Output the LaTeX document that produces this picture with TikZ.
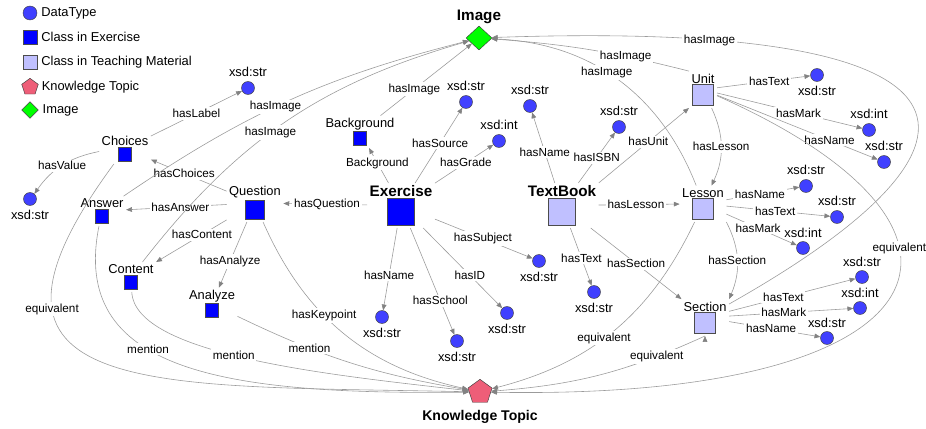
\documentclass[tikz,border=0pt]{standalone}
\usepackage{fontspec}
\setmainfont{Liberation Sans}
\usetikzlibrary{arrows.meta, positioning, shapes.geometric}

\definecolor{dtblue}{RGB}{64,64,255}
\definecolor{exblue}{RGB}{0,0,255}
\definecolor{tmblue}{RGB}{192,192,255}
\definecolor{ktred}{RGB}{238,94,120}
\definecolor{imgreen}{RGB}{0,255,0}
\definecolor{linegray}{RGB}{155,155,155}
\definecolor{tipgray}{RGB}{130,130,130}

% coloured square under a class name
\newcommand{\clsq}[2]{{\setlength{\fboxsep}{0pt}\setlength{\fboxrule}{0.5pt}\fcolorbox{black!70}{#1}{\rule{0pt}{#2}\rule{#2}{0pt}}}}

\begin{document}
\begin{tikzpicture}[x=0.03cm, y=-0.03cm, font=\fontsize{11}{13}\selectfont,
	conn/.style={draw=linegray, line width=0.5pt, -{Triangle[length=5pt,width=4pt,color=tipgray]}},
	lbl/.style={fill=white, inner sep=1.5pt, font=\fontsize{10}{12}\selectfont},
	dt/.style={circle, draw=black!75, fill=dtblue, minimum size=0.39cm, inner sep=0pt},
	cls/.style={align=center, inner sep=2pt, anchor=south},
	bold/.style={font=\bfseries\fontsize{13}{15}\selectfont},
	topic/.style={regular polygon, regular polygon sides=5, draw=black!75, fill=ktred, minimum size=0.76cm, inner sep=0pt},
	img/.style={diamond, draw=black!75, fill=imgreen, minimum width=0.78cm, minimum height=0.72cm, inner sep=0pt},
	lgsq/.style={draw=black!70, minimum size=0.42cm, inner sep=0pt}]

	\useasboundingbox (0,0) rectangle (926,429);

	% legend
	\node (lgDt) [dt, minimum size=0.42cm] at (30,13) {};
	\node (lgDtText) [right=0pt of lgDt] {DataType};
	\node (lgEx) [lgsq, fill=exblue] at (30,37) {};
	\node (lgExText) [right=0pt of lgEx] {Class in Exercise};
	\node (lgTm) [lgsq, fill=tmblue] at (30,62) {};
	\node (lgTmText) [right=0pt of lgTm] {Class in Teaching Material};
	\node (lgKt) [topic, minimum size=0.52cm] at (30,87) {};
	\node (lgKtText) [right=0pt of lgKt] {Knowledge Topic};
	\node (lgIm) [img, minimum width=0.5cm, minimum height=0.5cm] at (30,110) {};
	\node (lgImText) [right=0pt of lgIm] {Image};

	% main nodes
	\node (image) [img, label={[bold, label distance=-1.5pt]above:Image}] at (479,38) {};
	\node (kt) [topic, label={[font=\bfseries\fontsize{12}{14}\selectfont, label distance=3pt]below:Knowledge Topic}] at (480,392) {};

	\node (exercise) [cls, bold] at (401,228) {Exercise\\\clsq{exblue}{22.5pt}};
	\node (textbook) [cls, bold] at (562,228) {TextBook\\\clsq{tmblue}{22.5pt}};
	\node (question) [cls] at (255,222) {Question\\\clsq{exblue}{16pt}};
	\node (choices) [cls] at (125,164) {Choices\\\clsq{exblue}{11pt}};
	\node (answer) [cls] at (102,226) {Answer\\\clsq{exblue}{11pt}};
	\node (content) [cls] at (131,292) {Content\\\clsq{exblue}{11pt}};
	\node (analyze) [cls] at (212,320) {Analyze\\\clsq{exblue}{11pt}};
	\node (background) [cls] at (360,148) {Background\\\clsq{exblue}{11pt}};
	\node (unit) [cls] at (703,108) {Unit\\\clsq{tmblue}{17pt}};
	\node (lesson) [cls] at (703,222) {Lesson\\\clsq{tmblue}{17pt}};
	\node (section) [cls] at (705,336) {Section\\\clsq{tmblue}{17pt}};

	% data types
	\node (dLabel) [dt, label=above:{xsd:str}] at (248,88) {};
	\node (dValue) [dt, label=below:{xsd:str}] at (30,199) {};
	\node (dSource) [dt, label=above:{xsd:str}] at (466,102) {};
	\node (dGrade) [dt, label=above:{xsd:int}] at (499,141) {};
	\node (dEName) [dt, label=below:{xsd:str}] at (382,317) {};
	\node (dSchool) [dt, label=below:{xsd:str}] at (457,341) {};
	\node (dID) [dt, label=below:{xsd:str}] at (507,313) {};
	\node (dSubject) [dt, label=below:{xsd:str}] at (539,261) {};
	\node (dTName) [dt, label=above:{xsd:str}] at (530,106) {};
	\node (dISBN) [dt, label=above:{xsd:str}] at (619,127) {};
	\node (dTText) [dt, label=below:{xsd:str}] at (594,292) {};
	\node (dUText) [dt, label=below:{xsd:str}] at (817,75) {};
	\node (dUMark) [dt, label=above:{xsd:int}] at (869,130) {};
	\node (dUName) [dt, label=above:{xsd:str}] at (884,162) {};
	\node (dLName) [dt, label=above:{xsd:str}] at (806,186) {};
	\node (dLText) [dt, label=above:{xsd:str}] at (837,217) {};
	\node (dLMark) [dt, label=above:{xsd:int}] at (803,248) {};
	\node (dSText) [dt, label=above:{xsd:str}] at (862,277) {};
	\node (dSMark) [dt, label=above:{xsd:int}] at (860,308) {};
	\node (dSName) [dt, label=above:{xsd:str}] at (827,338) {};

	% exercise side
	\path [conn]
	(choices) edge node [lbl, pos=0.5] {hasLabel} (dLabel)
	(choices) edge [bend right=22] node [lbl] {hasValue} (dValue)
	(question) edge node [lbl, pos=0.56] {hasChoices} (choices)
	(question) edge node [lbl, pos=0.46] {hasAnswer} (answer)
	(question) edge node [lbl, pos=0.35] {hasContent} (content)
	(question) edge node [lbl, pos=0.6] {hasAnalyze} (analyze)
	(question) edge [bend right=27] node [lbl, pos=0.4] {hasKeypoint} (kt)
	(answer) edge [bend left=10] node [lbl, pos=0.46] {hasImage} (image)
	(content) edge [bend left=18] node [lbl, pos=0.45] {hasImage} (image)
	(analyze) edge [bend right=8] node [lbl, pos=0.31] {mention} (kt)

	(exercise) edge node [lbl, pos=0.48] {hasQuestion} (question)
	(exercise) edge node [lbl, pos=0.57] {Background} (background)
	(exercise) edge node [lbl, pos=0.53] {hasSource} (dSource)
	(exercise) edge node [lbl, pos=0.53] {hasGrade} (dGrade)
	(exercise) edge node [lbl, pos=0.57] {hasName} (dEName)
	(exercise) edge node [lbl, pos=0.68] {hasSchool} (dSchool)
	(exercise) edge node [lbl, pos=0.59] {hasID} (dID)
	(exercise) edge node [lbl, pos=0.49] {hasSubject} (dSubject)
	(background) edge node [lbl, pos=0.37] {hasImage} (image);

	\draw [conn] (choices) .. controls (-60,400) and (150,385) .. (kt) node [lbl, pos=0.28] {equivalent};
	\draw [conn] (answer) .. controls (70,370) and (220,395) .. (kt) node [lbl, pos=0.41] {mention};
	\draw [conn] (content) .. controls (135,355) and (330,375) .. (kt) node [lbl, pos=0.46] {mention};

	% teaching material side
	\path [conn]
	(textbook) edge node [lbl, pos=0.44] {hasName} (dTName)
	(textbook) edge node [lbl, pos=0.5] {hasISBN} (dISBN)
	(textbook.north east) edge node [lbl, pos=0.55] {hasUnit} (unit.south west)
	(textbook) edge node [lbl, pos=0.46] {hasLesson} (lesson)
	(textbook) edge node [lbl, pos=0.52] {hasText} (dTText)
	(textbook) edge node [lbl, pos=0.5] {hasSection} (section)

	(unit) edge [bend left=25] node [lbl] {hasLesson} (lesson)
	(unit) edge node [lbl, pos=0.56] {hasText} (dUText)
	(unit) edge node [lbl, pos=0.56] {hasMark} (dUMark)
	(unit) edge node [lbl, pos=0.7] {hasName} (dUName)
	(unit.north west) edge [bend right=5] node [lbl, pos=0.31] {hasImage} (image)

	(lesson) edge [bend right=33] node [lbl, pos=0.55] {hasImage} (image)
	(lesson.south east) edge [bend left=25] node [lbl] {hasSection} (section.north east)
	(lesson) edge node [lbl, pos=0.46] {hasName} (dLName)
	(lesson) edge node [lbl, pos=0.47] {hasText} (dLText)
	(lesson) edge node [lbl, pos=0.45] {hasMark} (dLMark)
	(lesson) edge [bend left=25] node [lbl, pos=0.55] {equivalent} (kt)

	(section) edge node [lbl, pos=0.43] {hasText} (dSText)
	(section) edge node [lbl, pos=0.44] {hasMark} (dSMark)
	(section) edge node [lbl, pos=0.46] {hasName} (dSName)
	(section.south) edge [bend left=10] node [lbl, pos=0.22] {equivalent} (kt);

	\draw [conn] (unit) .. controls (1020,230) and (950,400) .. (kt) node [lbl, pos=0.37] {equivalent};
	\draw [conn] (section) .. controls (1020,140) and (1000,20) .. (image) node [lbl, pos=0.83] {hasImage};

\end{tikzpicture}
\end{document}
